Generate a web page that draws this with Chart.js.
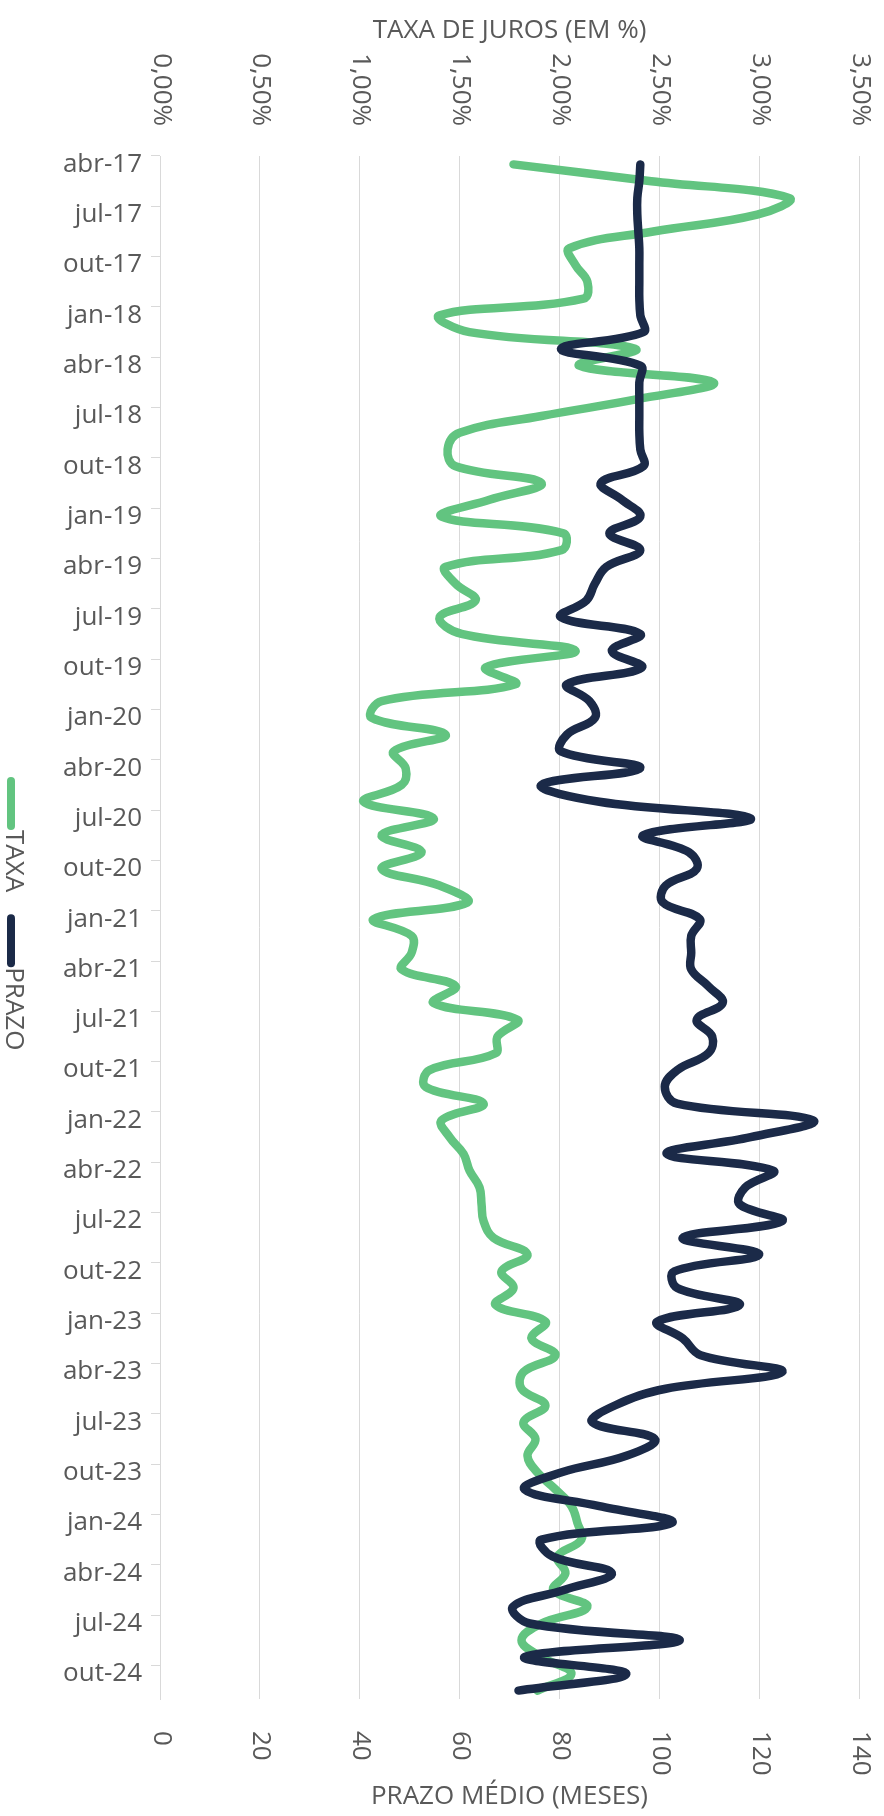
<!DOCTYPE html>
<html>
<head>
<meta charset="utf-8">
<script src="https://cdn.jsdelivr.net/npm/chart.js@4.4.1/dist/chart.umd.min.js"></script>
<style>
  html, body { margin: 0; padding: 0; background: #ffffff; }
  #wrap { width: 884px; height: 1816px; position: relative; }
</style>
</head>
<body>
<div id="wrap"><canvas id="c"></canvas></div>
<script>
const categories = [
  'abr-17','mai-17','jun-17','jul-17','ago-17','set-17','out-17','nov-17','dez-17',
  'jan-18','fev-18','mar-18','abr-18','mai-18','jun-18','jul-18','ago-18','set-18','out-18','nov-18','dez-18',
  'jan-19','fev-19','mar-19','abr-19','mai-19','jun-19','jul-19','ago-19','set-19','out-19','nov-19','dez-19',
  'jan-20','fev-20','mar-20','abr-20','mai-20','jun-20','jul-20','ago-20','set-20','out-20','nov-20','dez-20',
  'jan-21','fev-21','mar-21','abr-21','mai-21','jun-21','jul-21','ago-21','set-21','out-21','nov-21','dez-21',
  'jan-22','fev-22','mar-22','abr-22','mai-22','jun-22','jul-22','ago-22','set-22','out-22','nov-22','dez-22',
  'jan-23','fev-23','mar-23','abr-23','mai-23','jun-23','jul-23','ago-23','set-23','out-23','nov-23','dez-23',
  'jan-24','fev-24','mar-24','abr-24','mai-24','jun-24','jul-24','ago-24','set-24','out-24','nov-24'
];

// Taxa de juros (%)
const taxa = [
  1.77, 2.46, 3.15, 2.99, 2.47, 2.05, 2.08, 2.14, 2.12,
  1.40, 1.55, 2.38, 2.10, 2.77, 2.39, 1.91, 1.50, 1.44, 1.48, 1.91, 1.65,
  1.41, 2.02, 2.01, 1.43, 1.48, 1.58, 1.40, 1.51, 2.08, 1.63, 1.78, 1.11,
  1.06, 1.43, 1.17, 1.23, 1.21, 1.02, 1.37, 1.11, 1.31, 1.11, 1.40, 1.54,
  1.07, 1.26, 1.26, 1.21, 1.48, 1.37, 1.79, 1.69, 1.68, 1.35, 1.33, 1.62,
  1.41, 1.45, 1.52, 1.55, 1.60, 1.61, 1.62, 1.67, 1.84, 1.71, 1.77, 1.68,
  1.93, 1.86, 1.98, 1.82, 1.81, 1.93, 1.82, 1.88, 1.84, 1.89, 1.98, 2.06,
  2.09, 2.11, 1.99, 2.03, 1.97, 2.14, 1.91, 1.81, 1.91, 2.06, 1.89
];

// Prazo médio (meses)
const prazo = [
  96.2, 96.0, 95.6, 95.6, 95.8, 96.0, 96.0, 96.0, 96.0,
  96.2, 96.8, 80.3, 96.2, 96.0, 96.0, 96.0, 96.0, 96.2, 96.8, 88.3, 92.5,
  96.2, 90.0, 96.2, 89.4, 87.1, 85.4, 80.3, 96.2, 90.5, 96.5, 81.5, 86.0,
  87.1, 81.5, 80.3, 96.2, 76.4, 88.0, 118.3, 96.8, 105.9, 107.5, 101.3, 100.7,
  108.1, 106.4, 106.4, 106.4, 109.8, 112.7, 107.5, 110.6, 109.8, 103.6, 101.1, 103.6,
  130.8, 118.3, 101.5, 122.8, 117.2, 116.1, 124.6, 104.7, 120.0, 103.0, 103.6, 116.1,
  99.6, 104.7, 108.3, 124.6, 101.3, 91.1, 86.6, 99.1, 93.4, 80.3, 73.0, 88.0,
  102.5, 76.4, 78.6, 90.5, 80.9, 70.7, 74.1, 104.1, 73.0, 93.4, 71.8
];

const taxaTickLabels = ['0,00%','0,50%','1,00%','1,50%','2,00%','2,50%','3,00%','3,50%'];
const prazoTickLabels = ['0','20','40','60','80','100','120','140'];

const FONT = '"Open Sans", "Noto Sans", sans-serif';
const TEXT = '#595959';
const GRID = '#d9d9d9';
const GREEN = '#62C480';
const NAVY = '#1B2A48';

const customDraw = {
  id: 'customDraw',
  afterDraw(chart) {
    const ctx = chart.ctx;
    const xb = chart.scales.x, xt = chart.scales.xTop;
    ctx.save();
    ctx.fillStyle = TEXT;
    ctx.textBaseline = 'middle';
    ctx.font = '26px ' + FONT;
    xt.ticks.forEach((t, i) => {
      const px = xt.getPixelForValue(t.value);
      ctx.save();
      ctx.translate(px + 1, 126);
      ctx.rotate(Math.PI / 2);
      ctx.textAlign = 'right';
      ctx.fillText(taxaTickLabels[i], 0, 0);
      ctx.restore();
    });
    xb.ticks.forEach((t, i) => {
      const px = xb.getPixelForValue(t.value);
      ctx.save();
      ctx.translate(px + 1, 1731);
      ctx.rotate(Math.PI / 2);
      ctx.textAlign = 'left';
      ctx.fillText(prazoTickLabels[i], 0, 0);
      ctx.restore();
    });
    // legend (vertical, left)
    ctx.font = '26px ' + FONT;
    let y = 781;
    const lx = 11;
    chart.data.datasets.forEach(ds => {
      ctx.save();
      ctx.strokeStyle = ds.borderColor;
      ctx.lineWidth = 8;
      ctx.lineCap = 'round';
      ctx.beginPath();
      ctx.moveTo(lx, y);
      ctx.lineTo(lx, y + 45);
      ctx.stroke();
      ctx.restore();
      const ty = y + 49;
      ctx.save();
      ctx.translate(lx + 2, ty);
      ctx.rotate(Math.PI / 2);
      ctx.textAlign = 'left';
      ctx.fillText(ds.label, 0, 0);
      const w = ctx.measureText(ds.label).width;
      ctx.restore();
      y = ty + w + 26;
    });
    ctx.restore();
  }
};

new Chart(document.getElementById('c'), {
  type: 'line',
  data: {
    labels: categories,
    datasets: [
      {
        label: 'TAXA',
        data: taxa,
        xAxisID: 'xTop',
        borderColor: GREEN,
        backgroundColor: GREEN,
        borderWidth: 8.5,
        pointRadius: 0,
        tension: 0.4,
        borderCapStyle: 'round',
        borderJoinStyle: 'round',
        order: 2
      },
      {
        label: 'PRAZO',
        data: prazo,
        xAxisID: 'x',
        borderColor: NAVY,
        backgroundColor: NAVY,
        borderWidth: 8.5,
        pointRadius: 0,
        tension: 0.4,
        borderCapStyle: 'round',
        borderJoinStyle: 'round',
        order: 1
      }
    ]
  },
  options: {
    indexAxis: 'y',
    responsive: true,
    maintainAspectRatio: false,
    animation: false,
    layout: { padding: { left: 0, right: 25, top: 0, bottom: 0 } },
    plugins: { legend: { display: false }, tooltip: { enabled: false } },
    scales: {
      y: {
        type: 'category',
        position: 'left',
        offset: true,
        afterFit: s => { s.width = 160; },
        grid: {
          offset: true,
          drawOnChartArea: false,
          drawTicks: true,
          tickLength: 9,
          color: c => (c.index % 3 === 0 ? GRID : 'rgba(0,0,0,0)')
        },
        border: { display: true, color: GRID },
        ticks: {
          autoSkip: false,
          padding: 9,
          color: TEXT,
          font: { family: FONT, size: 26 },
          callback: (v, i) => (i % 3 === 0 ? categories[i] : '')
        }
      },
      x: {
        type: 'linear',
        position: 'bottom',
        min: 0,
        max: 140,
        afterFit: s => { s.height = 117; },
        ticks: { display: false, stepSize: 20 },
        grid: { color: GRID, drawTicks: false },
        border: { display: false },
        title: {
          display: true,
          text: 'PRAZO MÉDIO (MESES)',
          color: TEXT,
          font: { family: FONT, size: 26 },
          padding: { top: 0, bottom: 4 }
        }
      },
      xTop: {
        type: 'linear',
        position: 'top',
        min: 0,
        max: 3.5,
        afterFit: s => { s.height = 156; },
        ticks: { display: false, stepSize: 0.5 },
        grid: { display: false, drawTicks: false },
        border: { display: false },
        title: {
          display: true,
          text: 'TAXA DE JUROS (EM %)',
          color: TEXT,
          font: { family: FONT, size: 26 },
          padding: { top: 15, bottom: 0 }
        }
      }
    }
  },
  plugins: [customDraw]
});
</script>
</body>
</html>
